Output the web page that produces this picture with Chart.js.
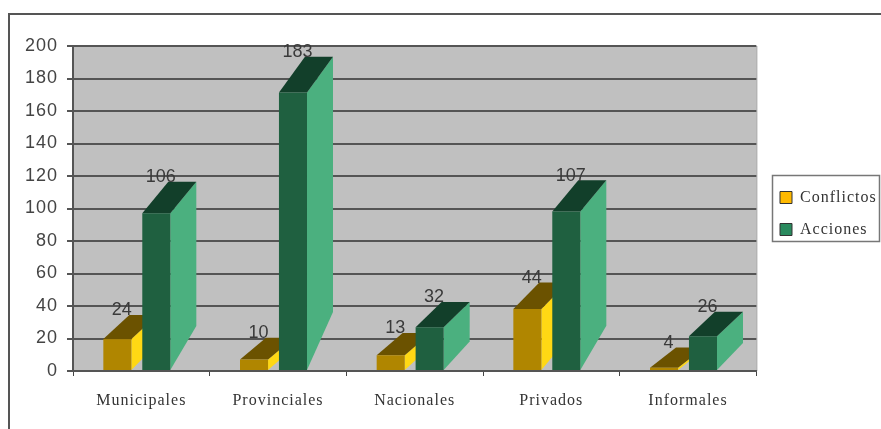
<!DOCTYPE html>
<html>
<head>
<meta charset="utf-8">
<title>Conflictos y acciones</title>
<script src="https://cdn.jsdelivr.net/npm/chart.js@4/dist/chart.umd.min.js"></script>
<style>
  html, body { margin: 0; padding: 0; background: #fff; overflow: hidden; }
  canvas { display: block; }
</style>
</head>
<body>
<canvas id="grafico" width="881" height="429"></canvas>
<script>
const categorias = ['Municipales', 'Provinciales', 'Nacionales', 'Privados', 'Informales'];
const conflictos = [24, 10, 13, 44, 4];
const acciones = [106, 183, 32, 107, 26];
const ticksY = [0, 20, 40, 60, 80, 100, 120, 140, 160, 180, 200];

const DX = 26;
const ELEVACION = 17;
const CORRIMIENTO = -4.5;

const caras = [
  { frente: '#b08600', arriba: '#6b5200', lado: '#ffd814' },
  { frente: '#1f6040', arriba: '#123f2a', lado: '#4bb07f' }
];

function poligono(ctx, puntos, color) {
  ctx.fillStyle = color;
  ctx.beginPath();
  puntos.forEach((p, i) => i ? ctx.lineTo(p[0], p[1]) : ctx.moveTo(p[0], p[1]));
  ctx.closePath();
  ctx.fill();
}

// columna con perspectiva, a partir de la barra que calcula la escala
function columna(ctx, bar, valor, c) {
  const izq = bar.x - bar.width / 2 + CORRIMIENTO;
  const der = izq + bar.width;
  const atrasY = bar.y - ELEVACION;
  const frenteY = atrasY + 17.5 + 1.35 * Math.sqrt(valor);
  const alto = bar.base - frenteY;
  const baseAtras = atrasY + alto * 0.92;
  poligono(ctx, [[der, frenteY], [der + DX, atrasY], [der + DX, baseAtras], [der, bar.base]], c.lado);
  poligono(ctx, [[izq, frenteY], [izq + DX, atrasY], [der + DX, atrasY], [der, frenteY]], c.arriba);
  poligono(ctx, [[izq, frenteY], [der, frenteY], [der, bar.base], [izq, bar.base]], c.frente);
}

const columnas3d = {
  id: 'columnas3d',
  beforeDraw(chart) {
    const { ctx, chartArea: a, legend } = chart;
    // los textos del grafico van algo espaciados
    ctx.letterSpacing = '1px';
    ctx.save();
    // marco exterior
    ctx.strokeStyle = '#555';
    ctx.lineWidth = 2;
    ctx.beginPath();
    ctx.moveTo(9, 429);
    ctx.lineTo(9, 14);
    ctx.lineTo(881, 14);
    ctx.stroke();
    // fondo del area de trazado
    ctx.fillStyle = '#c0c0c0';
    ctx.fillRect(a.left, a.top, a.right - a.left, a.bottom - a.top);
    ctx.strokeStyle = '#9a9a9a';
    ctx.lineWidth = 1;
    ctx.beginPath();
    ctx.moveTo(a.right + 0.5, a.top);
    ctx.lineTo(a.right + 0.5, a.bottom);
    ctx.stroke();
    // la leyenda va fuera de su sitio por defecto, con recuadro
    legend.left = 764;
    legend.top = 157;
    legend.right = 881;
    legend.bottom = 270;
    ctx.strokeStyle = '#777';
    ctx.lineWidth = 1.5;
    ctx.strokeRect(772.5, 175.5, 107, 66);
    ctx.restore();
  },
  // las columnas se pintan aqui, primero Conflictos y encima Acciones
  beforeDatasetsDraw(chart) {
    const ctx = chart.ctx;
    ctx.save();
    chart.data.datasets.forEach((ds, d) => {
      chart.getDatasetMeta(d).data.forEach((bar, i) => columna(ctx, bar, ds.data[i], caras[d]));
    });
    ctx.restore();
  },
  beforeDatasetDraw() {
    return false;
  },
  afterDatasetsDraw(chart) {
    const ctx = chart.ctx;
    ctx.save();
    ctx.letterSpacing = '0px';
    ctx.font = '18px "Liberation Sans"';
    ctx.fillStyle = '#3a3a3a';
    ctx.textAlign = 'center';
    ctx.textBaseline = 'middle';
    chart.data.datasets.forEach((ds, d) => {
      chart.getDatasetMeta(d).data.forEach((bar, i) => {
        ctx.fillText(ds.data[i], bar.x - bar.width / 2 + CORRIMIENTO + 18.5, bar.y - 21.5);
      });
    });
    ctx.restore();
  }
};

new Chart(document.getElementById('grafico'), {
  type: 'bar',
  data: {
    labels: categorias,
    datasets: [
      { label: 'Conflictos', data: conflictos, backgroundColor: '#ffb900', borderColor: '#333', borderWidth: 1 },
      { label: 'Acciones', data: acciones, backgroundColor: '#2a8a5e', borderColor: '#333', borderWidth: 1 }
    ]
  },
  plugins: [columnas3d],
  options: {
    responsive: false,
    animation: false,
    categoryPercentage: 0.57,
    barPercentage: 0.72,
    layout: { padding: { top: 46, right: 12, bottom: 0, left: 0 } },
    plugins: {
      tooltip: { enabled: false },
      title: { display: false },
      legend: {
        position: 'right',
        labels: {
          boxWidth: 12,
          boxHeight: 12,
          padding: 16,
          color: '#333',
          font: { family: '"Liberation Serif"', size: 16 }
        }
      }
    },
    scales: {
      x: {
        afterFit(s) { s.height = 58; },
        grid: { drawOnChartArea: false, drawTicks: true, tickLength: 5, color: '#444', offset: true },
        border: { color: '#555', width: 2 },
        ticks: { color: '#333', padding: 15, maxRotation: 0, font: { family: '"Liberation Serif"', size: 16 } }
      },
      y: {
        min: 0,
        max: 200,
        afterFit(s) { s.width = 73; },
        afterBuildTicks(s) { s.ticks = ticksY.map(v => ({ value: v })); },
        grid: { color: '#555', lineWidth: 2, tickLength: 6 },
        border: { color: '#555', width: 2 },
        ticks: { color: '#444', padding: 9, font: { family: '"Liberation Sans"', size: 18 } }
      }
    }
  }
});
</script>
</body>
</html>
